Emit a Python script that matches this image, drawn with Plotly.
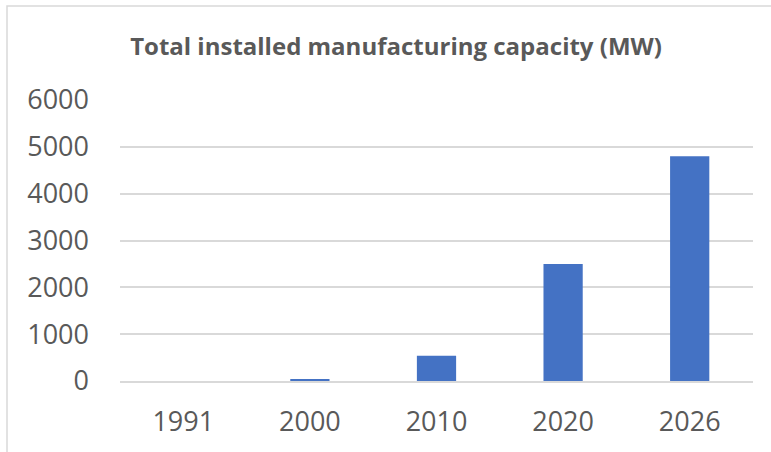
import plotly.graph_objects as go

years = ["1991", "2000", "2010", "2020", "2026"]
capacity_mw = [0, 40, 540, 2500, 4800]
y_ticks = [0, 1000, 2000, 3000, 4000, 5000, 6000]

W, H = 771, 452
ml, mr, mt, mb = 120, 18, 100, 71
pw, ph = W - ml - mr, H - mt - mb
FONT = "Open Sans"
GREY = "#595959"

fig = go.Figure(go.Bar(
    x=years, y=capacity_mw,
    marker=dict(color="#4472C4", line=dict(width=0)),
    width=0.31,
))

# Chart frame (left and top edges visible in the window)
fx0 = (7 - ml) / pw
fy1 = 1 + (mt - 6) / ph
fig.add_shape(type="rect", xref="paper", yref="paper",
              x0=fx0, x1=1.2, y0=-0.5, y1=fy1,
              line=dict(color="#D9D9D9", width=1.5), layer="below")

fig.update_layout(
    width=W, height=H,
    margin=dict(l=ml, r=mr, t=mt, b=mb),
    paper_bgcolor="white", plot_bgcolor="white",
    title=dict(text="<b>Total installed manufacturing capacity (MW)</b>",
               x=396 / W, xanchor="center", y=1 - 47 / H, yanchor="middle",
               font=dict(family=FONT, size=24, color=GREY)),
    showlegend=False,
    bargap=0.69,
)
fig.update_xaxes(showline=True, linecolor="#D9D9D9", linewidth=1.5,
                 tickfont=dict(family=FONT, size=27, color=GREY),
                 ticks="", ticklabelstandoff=16)
fig.update_yaxes(range=[0, 6000], tickvals=y_ticks,
                 showgrid=True, gridcolor="#D9D9D9", gridwidth=1.5,
                 zeroline=False,
                 tickfont=dict(family=FONT, size=27, color=GREY),
                 ticks="", ticklabelstandoff=30)

fig.write_html("out.html")
